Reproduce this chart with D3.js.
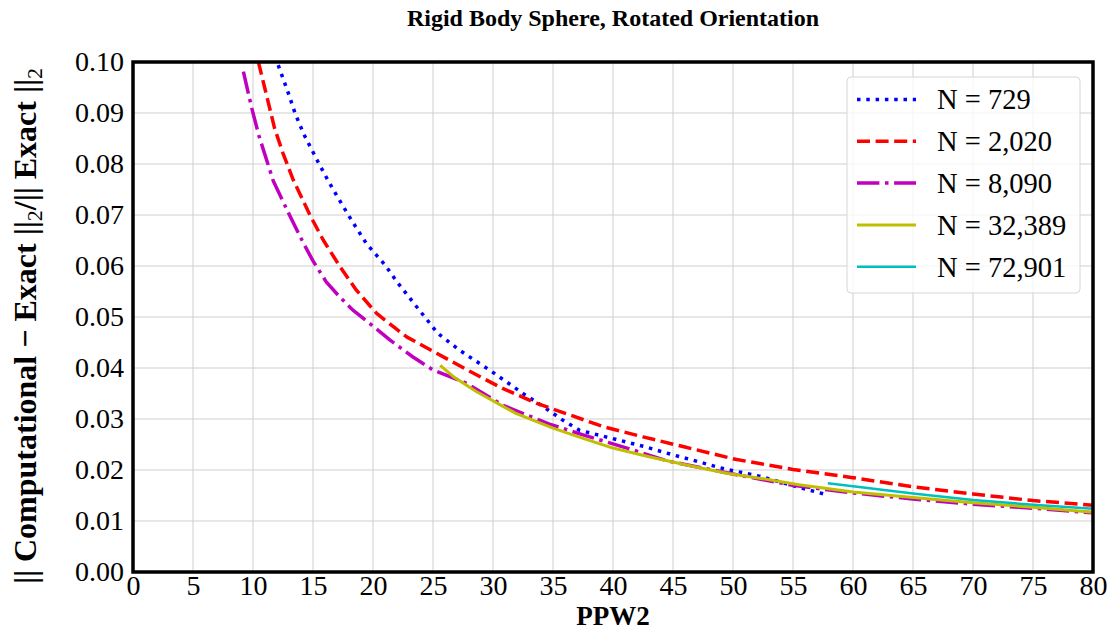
<!DOCTYPE html>
<html>
<head>
<meta charset="utf-8">
<script src="https://cdn.jsdelivr.net/npm/d3@7"></script>
<style>
  html, body { margin: 0; padding: 0; background: #fff; }
  svg { display: block; }
  text { font-family: "Liberation Serif", "Times New Roman", serif; fill: #000; }
</style>
</head>
<body>
<svg id="chart" width="1112" height="631"></svg>
<script>
// ---- data ----
const xTicks = [0, 5, 10, 15, 20, 25, 30, 35, 40, 45, 50, 55, 60, 65, 70, 75, 80];
const yTicks = [0.00, 0.01, 0.02, 0.03, 0.04, 0.05, 0.06, 0.07, 0.08, 0.09, 0.10];

const seriesNames = ["N = 729", "N = 2,020", "N = 8,090", "N = 32,389", "N = 72,901"];

const x729 = [12.1, 12.9, 13.5, 14.2, 15.4, 16.2, 17.0, 18.2, 19.45, 21.0, 22.0, 23.4, 25.4, 27.2, 29.9, 32.5, 34.4, 35.8, 37.2, 39.4, 42.6, 44.8, 47.0, 49.3, 52.2, 55.5, 57.9];
const y729 = [0.0994, 0.0942, 0.0900, 0.0860, 0.0805, 0.0770, 0.0737, 0.0690, 0.0644, 0.0602, 0.0569, 0.0527, 0.0468, 0.0435, 0.0393, 0.0350, 0.0321, 0.0298, 0.0278, 0.0265, 0.0246, 0.0231, 0.0217, 0.0202, 0.0188, 0.0166, 0.0151];

const x2020 = [10.45, 11.0, 11.8, 12.5, 13.35, 14.74, 15.85, 17.24, 18.6, 20.3, 21.7, 22.8, 25.3, 28.1, 30.8, 33.6, 36.4, 39.2, 42.5, 46.0, 50.2, 55.0, 60.0, 65.0, 70.0, 75.0, 80.0];
const y2020 = [0.1000, 0.0947, 0.0870, 0.0821, 0.0769, 0.0700, 0.0651, 0.0599, 0.0553, 0.0507, 0.0481, 0.0461, 0.0429, 0.0393, 0.0360, 0.0331, 0.0308, 0.0285, 0.0265, 0.0245, 0.0221, 0.0201, 0.0185, 0.0167, 0.0153, 0.0140, 0.0131];

const x8090 = [9.2, 9.9, 10.5, 11.7, 13.1, 14.2, 15.0, 16.1, 17.2, 18.3, 20.0, 21.4, 23.3, 25.0, 27.8, 30.8, 34.7, 37.5, 41.7, 44.5, 50.0, 55.0, 60.0, 65.0, 70.0, 75.0, 80.0];
const y8090 = [0.0981, 0.0909, 0.0855, 0.0766, 0.0697, 0.0645, 0.0610, 0.0569, 0.0540, 0.0514, 0.0482, 0.0455, 0.0422, 0.0396, 0.0370, 0.0327, 0.0290, 0.0269, 0.0239, 0.0218, 0.0192, 0.0170, 0.0155, 0.0143, 0.0133, 0.0125, 0.0116];

const x32389 = [25.6, 26.7, 28.6, 31.9, 35.0, 37.5, 40.0, 43.0, 46.5, 49.6, 52.2, 55.5, 60.0, 65.0, 70.0, 75.0, 80.0];
const y32389 = [0.0405, 0.0383, 0.0354, 0.0311, 0.0282, 0.0262, 0.0243, 0.0226, 0.0208, 0.0193, 0.0184, 0.0171, 0.0157, 0.0146, 0.0136, 0.0127, 0.0117];

const x72901 = [57.9, 60.0, 65.0, 70.0, 75.0, 80.0];
const y72901 = [0.0174, 0.0168, 0.0154, 0.0141, 0.0132, 0.0124];

// ---- layout ----
const FONT = '"Liberation Serif", "Times New Roman", serif';
const svg = d3.select("#chart");
const L = 133, R = 1093, T = 62, B = 572;

const x = d3.scaleLinear().domain([0, 80]).range([L, R]);
const y = d3.scaleLinear().domain([0, 0.10]).range([B, T]);

// grid
const grid = svg.append("g");
grid.selectAll("line.vg").data(xTicks).enter().append("line")
  .attr("x1", d => x(d)).attr("x2", d => x(d)).attr("y1", T).attr("y2", B)
  .attr("stroke", "#cfcfcf").attr("stroke-width", 1);
grid.selectAll("line.hg").data(yTicks).enter().append("line")
  .attr("x1", L).attr("x2", R).attr("y1", d => y(d)).attr("y2", d => y(d))
  .attr("stroke", "#cfcfcf").attr("stroke-width", 1);

// axes tick labels
const xAxis = d3.axisBottom(x).tickValues(xTicks).tickSize(0).tickPadding(3).tickFormat(d3.format("d"));
const gx = svg.append("g").attr("transform", `translate(0,${B})`).call(xAxis);
gx.select(".domain").remove();
gx.attr("font-family", FONT);
gx.selectAll("text").style("font-family", FONT).style("font-size", "28px").attr("fill", "#000").attr("dy", "0.71em");

const yAxis = d3.axisLeft(y).tickValues(yTicks).tickSize(0).tickPadding(9).tickFormat(d3.format(".2f"));
const gy = svg.append("g").attr("transform", `translate(${L},0)`).call(yAxis);
gy.select(".domain").remove();
gy.attr("font-family", FONT);
gy.selectAll("text").style("font-family", FONT).style("font-size", "28px").attr("fill", "#000");

// clip
svg.append("clipPath").attr("id", "clip").append("rect")
  .attr("x", L).attr("y", T).attr("width", R - L).attr("height", B - T);

const series = [
  { name: seriesNames[0], xs: x729, ys: y729, color: "#0000ff", width: 3.5, dash: "3.5,5.8" },
  { name: seriesNames[1], xs: x2020, ys: y2020, color: "#ff0000", width: 3.5, dash: "13,5.6" },
  { name: seriesNames[2], xs: x8090, ys: y8090, color: "#bf00bf", width: 3.5, dash: "22.4,5.6,3.5,5.6" },
  { name: seriesNames[3], xs: x32389, ys: y32389, color: "#bfbf00", width: 3, dash: null },
  { name: seriesNames[4], xs: x72901, ys: y72901, color: "#00bfbf", width: 2.5, dash: null }
];

const line = d3.line().x(d => x(d[0])).y(d => y(d[1]));
const plot = svg.append("g").attr("clip-path", "url(#clip)");
series.forEach(s => {
  const pts = s.xs.map((v, i) => [v, s.ys[i]]);
  plot.append("path").datum(pts).attr("d", line)
    .attr("fill", "none").attr("stroke", s.color).attr("stroke-width", s.width)
    .attr("stroke-dasharray", s.dash).attr("stroke-linecap", "butt").attr("stroke-linejoin", "round");
});

// frame
svg.append("rect").attr("x", L).attr("y", T).attr("width", R - L).attr("height", B - T)
  .attr("fill", "none").attr("stroke", "#000").attr("stroke-width", 3.5);

// legend
const lg = svg.append("g");
lg.append("rect").attr("x", 847).attr("y", 77).attr("width", 233).attr("height", 216)
  .attr("rx", 4).attr("ry", 4).attr("fill", "#fff").attr("fill-opacity", 0.8)
  .attr("stroke", "#d6d6d6").attr("stroke-width", 1);
series.forEach((s, i) => {
  const yy = 99.5 + i * 41.8;
  lg.append("line").attr("x1", 857).attr("x2", 916).attr("y1", yy).attr("y2", yy)
    .attr("stroke", s.color).attr("stroke-width", s.width).attr("stroke-dasharray", s.dash);
  lg.append("text").attr("x", 937).attr("y", yy).attr("dy", "0.35em")
    .style("font-size", "28.5px").text(s.name);
});

// title
svg.append("text").attr("x", (L + R) / 2).attr("y", 26).attr("text-anchor", "middle")
  .style("font-size", "24px").style("font-weight", "bold").text("Rigid Body Sphere, Rotated Orientation");

// x label
svg.append("text").attr("x", (L + R) / 2).attr("y", 625).attr("text-anchor", "middle")
  .style("font-size", "27px").style("font-weight", "bold").text("PPW2");

// y label
const yl = svg.append("text").attr("transform", `translate(36,326) rotate(-90)`)
  .attr("text-anchor", "middle").style("font-size", "32px").style("font-weight", "bold");
yl.append("tspan").text("|| Computational \u2212 Exact ||");
yl.append("tspan").attr("baseline-shift", "-25%").style("font-size", "22px").style("font-weight", "normal").text("2");
yl.append("tspan").text("/|| Exact ||");
yl.append("tspan").attr("baseline-shift", "-25%").style("font-size", "22px").style("font-weight", "normal").text("2");
</script>
</body>
</html>
